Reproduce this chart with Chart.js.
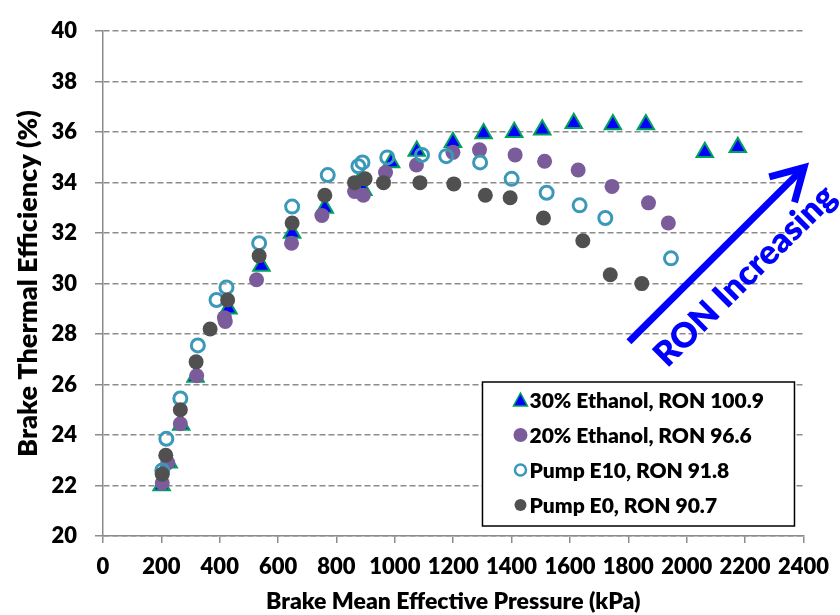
<!DOCTYPE html>
<html>
<head>
<meta charset="utf-8">
<script src="https://cdn.jsdelivr.net/npm/chart.js@4"></script>
<style>
  body { margin: 0; background: #fff; }
  #wrap { width: 840px; height: 615px; }
</style>
</head>
<body>
<div id="wrap"><canvas id="btChart" width="840" height="615"></canvas></div>
<script>
// BMEP (kPa) and brake thermal efficiency (%) per fuel
const e30X = [201, 225, 268, 317, 430, 543, 648, 760, 875, 892, 987, 1075, 1199, 1304, 1409, 1505, 1613, 1747, 1860, 2062, 2175];
const e30Y = [22.0, 22.9, 24.4, 26.3, 29.0, 30.7, 32.0, 33.0, 34.0, 33.7, 34.8, 35.25, 35.6, 35.95, 36.0, 36.1, 36.35, 36.3, 36.3, 35.2, 35.4];

const e20X = [203, 222, 265, 321, 416, 419, 526, 646, 750, 862, 892, 968, 1074, 1199, 1290, 1412, 1513, 1628, 1744, 1869, 1937];
const e20Y = [22.1, 22.9, 24.45, 26.35, 28.65, 28.5, 30.15, 31.6, 32.7, 33.65, 33.5, 34.4, 34.7, 35.2, 35.3, 35.1, 34.85, 34.5, 33.85, 33.2, 32.4];

const e10X = [203, 217, 265, 325, 389, 423, 535, 648, 770, 875, 889, 974, 1093, 1176, 1292, 1400, 1520, 1633, 1721, 1946];
const e10Y = [22.6, 23.85, 25.45, 27.55, 29.35, 29.85, 31.6, 33.05, 34.3, 34.65, 34.8, 35.0, 35.1, 35.05, 34.8, 34.15, 33.6, 33.1, 32.6, 31.0];

const e0X = [203, 215, 265, 319, 367, 427, 535, 648, 760, 862, 898, 961, 1086, 1202, 1310, 1395, 1509, 1644, 1738, 1846];
const e0Y = [22.45, 23.2, 25.0, 26.9, 28.2, 29.35, 31.1, 32.4, 33.5, 34.0, 34.15, 34.0, 34.0, 33.95, 33.5, 33.4, 32.6, 31.7, 30.35, 30.0];

const seriesNames = ["30% Ethanol, RON 100.9", "20% Ethanol, RON 96.6", "Pump E10, RON 91.8", "Pump E0, RON 90.7"];

// arrow annotation, in data units
const arrowFrom = { x: 1802, y: 27.7 };
const arrowTo = { x: 2402, y: 34.6 };
const arrowLabel = "RON Increasing";
const arrowLabelAt = { x: 2200, y: 30.3 };

const FONT = "Lato, 'Open Sans', sans-serif";
const WEIGHT = "800";
const BLUE = "#0000ff", GREEN = "#00a060", PURPLE = "#7a5c9a", TEAL = "#3a98b9", DARK = "#505050";

function pts(xs, ys) {
  return xs.map((x, i) => ({ x: x, y: ys[i] }));
}

// legend box + arrow drawn on top of the plot
const extras = {
  id: "extras",
  afterDatasetsDraw(chart) {
    const { ctx, scales } = chart;
    const x0 = scales.x.getPixelForValue(arrowFrom.x), y0 = scales.y.getPixelForValue(arrowFrom.y);
    const x1 = scales.x.getPixelForValue(arrowTo.x), y1 = scales.y.getPixelForValue(arrowTo.y);
    const ang = Math.atan2(y1 - y0, x1 - x0);
    ctx.save();
    ctx.strokeStyle = BLUE;
    ctx.lineWidth = 7;
    ctx.lineCap = "butt";
    ctx.beginPath();
    ctx.moveTo(x0, y0);
    ctx.lineTo(x1 - 3 * Math.cos(ang), y1 - 3 * Math.sin(ang));
    ctx.stroke();
    // open arrow head
    const hl = 36, spread = 0.52;
    ctx.lineJoin = "miter";
    ctx.beginPath();
    ctx.moveTo(x1 - hl * Math.cos(ang - spread), y1 - hl * Math.sin(ang - spread));
    ctx.lineTo(x1, y1);
    ctx.lineTo(x1 - hl * Math.cos(ang + spread), y1 - hl * Math.sin(ang + spread));
    ctx.stroke();

    const tx = scales.x.getPixelForValue(arrowLabelAt.x), ty = scales.y.getPixelForValue(arrowLabelAt.y);
    ctx.translate(tx, ty);
    ctx.rotate(ang);
    ctx.fillStyle = BLUE;
    ctx.font = WEIGHT + " 34px " + FONT;
    ctx.textAlign = "center";
    ctx.textBaseline = "middle";
    ctx.fillText(arrowLabel, 0, 0);
    ctx.restore();
  },
  afterDraw(chart) {
    const { ctx, chartArea } = chart;
    const bx = chartArea.right - 321, by = chartArea.bottom - 154, bw = 312, bh = 144;
    ctx.save();
    ctx.fillStyle = "#fff";
    ctx.fillRect(bx, by, bw, bh);
    ctx.strokeStyle = "#000";
    ctx.lineWidth = 1.5;
    ctx.strokeRect(bx, by, bw, bh);
    const mx = bx + 38, tx = bx + 47;
    ctx.font = WEIGHT + " 21px " + FONT;
    ctx.textBaseline = "middle";
    ctx.fillStyle = "#000";
    for (let i = 0; i < seriesNames.length; i++) {
      const y = by + 18 + i * 35;
      ctx.save();
      if (i === 0) {
        ctx.beginPath();
        ctx.moveTo(mx, y - 7);
        ctx.lineTo(mx + 7, y + 6);
        ctx.lineTo(mx - 7, y + 6);
        ctx.closePath();
        ctx.fillStyle = BLUE;
        ctx.fill();
        ctx.strokeStyle = GREEN;
        ctx.lineWidth = 1.5;
        ctx.stroke();
      } else if (i === 1) {
        ctx.beginPath();
        ctx.arc(mx, y, 7, 0, Math.PI * 2);
        ctx.fillStyle = PURPLE;
        ctx.fill();
      } else if (i === 2) {
        ctx.beginPath();
        ctx.arc(mx, y, 5.5, 0, Math.PI * 2);
        ctx.strokeStyle = TEAL;
        ctx.lineWidth = 2.5;
        ctx.stroke();
      } else {
        ctx.beginPath();
        ctx.arc(mx, y, 6, 0, Math.PI * 2);
        ctx.fillStyle = DARK;
        ctx.fill();
      }
      ctx.restore();
      ctx.fillText(seriesNames[i], tx, y + 1);
    }
    ctx.restore();
  }
};

const ctx = document.getElementById("btChart").getContext("2d");
const btChart = new Chart(ctx, {
  type: "scatter",
  data: {
    datasets: [
      {
        label: seriesNames[0],
        data: pts(e30X, e30Y),
        pointStyle: "triangle",
        pointRadius: 9.5,
        backgroundColor: BLUE,
        borderColor: GREEN,
        borderWidth: 2,
        order: 4,
      },
      {
        label: seriesNames[1],
        data: pts(e20X, e20Y),
        pointStyle: "circle",
        pointRadius: 7.5,
        backgroundColor: PURPLE,
        borderColor: PURPLE,
        borderWidth: 0,
        order: 3,
      },
      {
        label: seriesNames[2],
        data: pts(e10X, e10Y),
        pointStyle: "circle",
        pointRadius: 6.5,
        backgroundColor: "rgba(255,255,255,0)",
        borderColor: TEAL,
        borderWidth: 3,
        order: 2,
      },
      {
        label: seriesNames[3],
        data: pts(e0X, e0Y),
        pointStyle: "circle",
        pointRadius: 7.5,
        backgroundColor: DARK,
        borderColor: DARK,
        borderWidth: 0,
        order: 1,
      },
    ],
  },
  options: {
    responsive: false,
    animation: false,
    layout: { padding: { top: 21, right: 32, left: 0, bottom: 0 } },
    plugins: {
      legend: { display: false },
      tooltip: { enabled: false },
    },
    scales: {
      x: {
        type: "linear",
        min: 0,
        max: 2400,
        ticks: {
          stepSize: 200,
          padding: 11,
          color: "#000",
          font: { family: FONT, size: 22, weight: WEIGHT },
          callback: (v) => String(v),
        },
        grid: { drawOnChartArea: false, drawTicks: true, tickLength: 7, color: "#8c8c8c", lineWidth: 1.5 },
        border: { color: "#8c8c8c", width: 1.5 },
        title: {
          display: true,
          text: "Brake Mean Effective Pressure (kPa)",
          color: "#000",
          font: { family: FONT, size: 23, weight: WEIGHT },
          padding: 0,
        },
        afterFit(s) { s.height = 79; },
      },
      y: {
        min: 20,
        max: 40,
        ticks: { stepSize: 2, padding: 18, color: "#000", font: { family: FONT, size: 22, weight: WEIGHT } },
        grid: { color: "#8c8c8c", lineWidth: 1.5, tickLength: 8, tickBorderDash: [] },
        border: { color: "#8c8c8c", width: 1.5, dash: [6, 3] },
        title: {
          display: true,
          text: "Brake Thermal Efficiency (%)",
          color: "#000",
          font: { family: FONT, size: 27, weight: WEIGHT },
          padding: { top: 12, bottom: 0 },
        },
        afterFit(s) { s.width = 103; },
      },
    },
  },
  plugins: [extras],
});
</script>
</body>
</html>
